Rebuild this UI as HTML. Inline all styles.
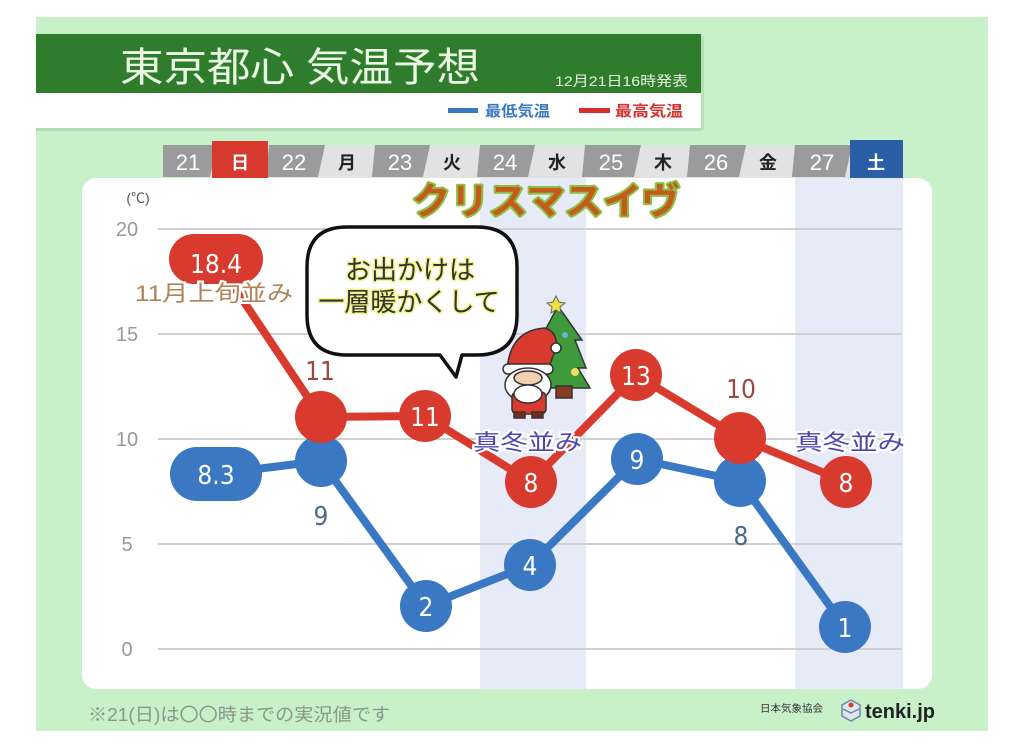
<!DOCTYPE html>
<html><head><meta charset="utf-8"><style>
html,body{margin:0;padding:0;background:#fff;width:1024px;height:745px;overflow:hidden}
svg{display:block}
text{font-family:"Liberation Sans","Noto Sans CJK JP",sans-serif}
.n{font-family:"Liberation Sans Narrow","DejaVu Sans Condensed","Liberation Sans",sans-serif}
</style></head><body>
<svg width="1024" height="745" viewBox="0 0 1024 745" xmlns="http://www.w3.org/2000/svg">
<rect x="0" y="0" width="1024" height="745" fill="#fff"/>
<rect x="36" y="17" width="952" height="714" fill="#c8f0c9"/>
<!-- title -->
<rect x="36" y="34" width="665" height="59" fill="#2f7d2c"/>
<rect x="36" y="93" width="665" height="35" fill="#fdfefd"/>
<rect x="36" y="128" width="665" height="3" fill="#b4dcb4"/>
<rect x="701" y="36" width="3" height="94" fill="#b8dfb8"/>
<text x="120" y="81" font-size="40" fill="#eaf8e4" textLength="360" lengthAdjust="spacingAndGlyphs">東京都心 気温予想</text>
<text x="555" y="86" font-size="14" fill="#e4f2e0" textLength="133" lengthAdjust="spacingAndGlyphs">12月21日16時発表</text>
<rect x="448" y="108" width="30" height="5" fill="#3a78c0"/>
<text x="485" y="116" font-size="15" font-weight="bold" fill="#3a78c0" textLength="65" lengthAdjust="spacingAndGlyphs">最低気温</text>
<rect x="579" y="108" width="31" height="5" fill="#d5302c"/>
<text x="615" y="116" font-size="15" font-weight="bold" fill="#d5302c" textLength="68" lengthAdjust="spacingAndGlyphs">最高気温</text>
<!-- tabs -->
<g>
<rect x="205" y="145" width="698" height="33" fill="#e2e2e2"/>
<polygon points="163,145 217,145 210,177 163,177" fill="#9b9b9b"/>
<polygon points="269,145 325,145 318,177 266,177" fill="#9b9b9b"/>
<polygon points="375,145 430,145 423,177 372,177" fill="#9b9b9b"/>
<polygon points="480,145 535,145 528,177 477,177" fill="#9b9b9b"/>
<polygon points="585,145 641,145 634,177 582,177" fill="#9b9b9b"/>
<polygon points="690,145 746,145 739,177 687,177" fill="#9b9b9b"/>
<polygon points="795,145 852,145 845,177 792,177" fill="#9b9b9b"/>
<rect x="212" y="141" width="56" height="37" fill="#d63a2e"/>
<rect x="850" y="140" width="53" height="38" fill="#2a5fa8"/>
<g font-size="22" fill="#fff" text-anchor="middle">
<text x="188" y="170">21</text><text x="294" y="170">22</text><text x="400" y="170">23</text>
<text x="505" y="170">24</text><text x="611" y="170">25</text><text x="716" y="170">26</text><text x="822" y="170">27</text>
</g>
<g font-size="18" font-weight="bold" text-anchor="middle" fill="#222">
<text x="240" y="169" fill="#fff">日</text><text x="347" y="169">月</text><text x="452" y="169">火</text>
<text x="557" y="169">水</text><text x="663" y="169">木</text><text x="768" y="169">金</text>
<text x="876" y="169" fill="#fff">土</text>
</g>
</g>
<!-- panel -->
<rect x="82" y="178" width="850" height="511" rx="14" fill="#fff"/>
<rect x="480" y="178" width="106" height="511" fill="#e7eaf7"/>
<rect x="795" y="178" width="108" height="511" fill="#e7eaf7"/>
<g stroke="#d0d0d0" stroke-width="2">
<line x1="158" y1="229" x2="902" y2="229"/><line x1="158" y1="334" x2="902" y2="334"/>
<line x1="158" y1="439" x2="902" y2="439"/><line x1="158" y1="544" x2="902" y2="544"/>
<line x1="158" y1="649" x2="902" y2="649"/>
</g>
<text x="138" y="203" font-size="14" fill="#555" text-anchor="middle">(℃)</text>
<g font-size="20" fill="#999" text-anchor="middle">
<text x="127" y="236">20</text><text x="127" y="341">15</text><text x="127" y="446">10</text>
<text x="127" y="551">5</text><text x="127" y="656">0</text>
</g>
<text x="412" y="214" font-size="37" font-weight="bold" fill="#c45a1c" stroke="#8cc043" stroke-width="4" paint-order="stroke" stroke-linejoin="round" textLength="268" lengthAdjust="spacingAndGlyphs">クリスマスイヴ</text>
<!-- blue series -->
<polyline points="216,474 321,461 426,606 530,565 637,459 740,481 845,627" fill="none" stroke="#3b78c4" stroke-width="8" stroke-linejoin="round"/>
<rect x="170" y="447" width="92" height="54" rx="27" fill="#3b78c4"/>
<g fill="#3b78c4">
<circle cx="321" cy="461" r="26"/><circle cx="426" cy="606" r="26"/><circle cx="530" cy="565" r="26"/>
<circle cx="637" cy="459" r="26"/><circle cx="740" cy="481" r="26"/><circle cx="845" cy="627" r="26"/>
</g>
<!-- red series -->
<polyline points="216,260 321,417 425,416 531,482 636,375 740,438 846,482" fill="none" stroke="#d93a2e" stroke-width="8" stroke-linejoin="round"/>
<rect x="169" y="234" width="94" height="50" rx="25" fill="#d93a2e"/>
<g fill="#d93a2e">
<circle cx="321" cy="417" r="26"/><circle cx="425" cy="416" r="26"/><circle cx="531" cy="482" r="26"/>
<circle cx="636" cy="375" r="26"/><circle cx="740" cy="438" r="26"/><circle cx="846" cy="482" r="26"/>
</g>
<g class="n" font-size="26" fill="#fff" text-anchor="middle">
<text class="n" x="216" y="273">18.4</text>
<text class="n" x="216" y="484">8.3</text>
<text class="n" x="425" y="426">11</text><text class="n" x="531" y="492">8</text><text class="n" x="636" y="385">13</text><text class="n" x="846" y="492">8</text>
<text class="n" x="426" y="616">2</text><text class="n" x="530" y="575">4</text><text class="n" x="637" y="469">9</text><text class="n" x="845" y="637">1</text>
</g>
<g font-size="26" text-anchor="middle">
<text class="n" x="320" y="380" fill="#9a4a3c">11</text>
<text class="n" x="741" y="398" fill="#9a4a3c">10</text>
<text class="n" x="321" y="525" fill="#4d6a8c">9</text>
<text class="n" x="741" y="545" fill="#4d6a8c">8</text>
</g>
<text x="135" y="301" font-size="22" fill="#b08458" stroke="#fff" stroke-width="4" paint-order="stroke" textLength="158" lengthAdjust="spacingAndGlyphs">11月上旬並み</text>
<g font-size="22" fill="#4e46b0" stroke="#fff" stroke-width="4" paint-order="stroke">
<text x="473" y="450" textLength="109" lengthAdjust="spacingAndGlyphs">真冬並み</text>
<text x="795" y="450" textLength="110" lengthAdjust="spacingAndGlyphs">真冬並み</text>
</g>
<!-- speech bubble -->
<path d="M347,227 H477 Q517,227 517,267 V315 Q517,355 477,355 H462 L456,377 L440,355 H347 Q307,355 307,315 V267 Q307,227 347,227 Z" fill="#fff" stroke="#111" stroke-width="3.5" stroke-linejoin="round"/>
<g font-size="26" fill="#333" stroke="#f4f48a" stroke-width="3" paint-order="stroke" text-anchor="middle">
<text x="410" y="279">お出かけは</text>
<text x="409" y="311">一層暖かくして</text>
</g>
<!-- santa and tree -->
<g stroke="#333" stroke-width="1.5">
<polygon points="558,306 540,340 548,340 536,368 546,368 534,388 590,388 578,368 586,368 575,340 582,340" fill="#3e9a3a"/>
<rect x="556" y="386" width="16" height="12" fill="#8a3a20"/>
<circle cx="545" cy="360" r="3" fill="#f0d040" stroke="none"/><circle cx="575" cy="372" r="4" fill="#f0e060" stroke="none"/>
<circle cx="565" cy="335" r="3" fill="#6ab0e0" stroke="none"/>
<path d="M507,370 Q510,330 545,328 Q558,332 556,348 L548,370 Z" fill="#d93a2e"/>
<circle cx="556" cy="348" r="5" fill="#fff"/>
<rect x="503" y="364" width="50" height="10" rx="5" fill="#fff"/>
<ellipse cx="528" cy="385" rx="23" ry="17" fill="#fff"/>
<ellipse cx="528" cy="378" rx="14" ry="7" fill="#f4d0b0"/>
<rect x="512" y="392" width="34" height="22" rx="5" fill="#d93a2e"/>
<ellipse cx="528" cy="394" rx="14" ry="9" fill="#fff"/>
<rect x="514" y="412" width="11" height="6" fill="#7a2a1a"/><rect x="532" y="412" width="11" height="6" fill="#7a2a1a"/>
</g>
<path d="M556,296 l3,6 6,1 -5,4 1,6 -5,-3 -5,3 1,-6 -5,-4 6,-1 Z" fill="#f0e040" stroke="#666" stroke-width="1"/>
<!-- footer -->
<text x="88" y="721" font-size="18" fill="#8a968a" textLength="302" lengthAdjust="spacingAndGlyphs">※21(日)は〇〇時までの実況値です</text>
<text x="760" y="712" font-size="10" fill="#333" textLength="63" lengthAdjust="spacingAndGlyphs">日本気象協会</text>
<g>
<polygon points="851,700 860,705 860,716 851,721 842,716 842,705" fill="#dfe6ee" stroke="#6a8aa8" stroke-width="1.5"/>
<circle cx="851" cy="705" r="2.5" fill="#d93a2e"/>
<path d="M843,709 L851,713 L859,709" fill="none" stroke="#6a8aa8" stroke-width="1.5"/>
</g>
<text x="865" y="718" font-size="20" font-weight="bold" fill="#222" textLength="70" lengthAdjust="spacingAndGlyphs">tenki.jp</text>
</svg>
</body></html>
